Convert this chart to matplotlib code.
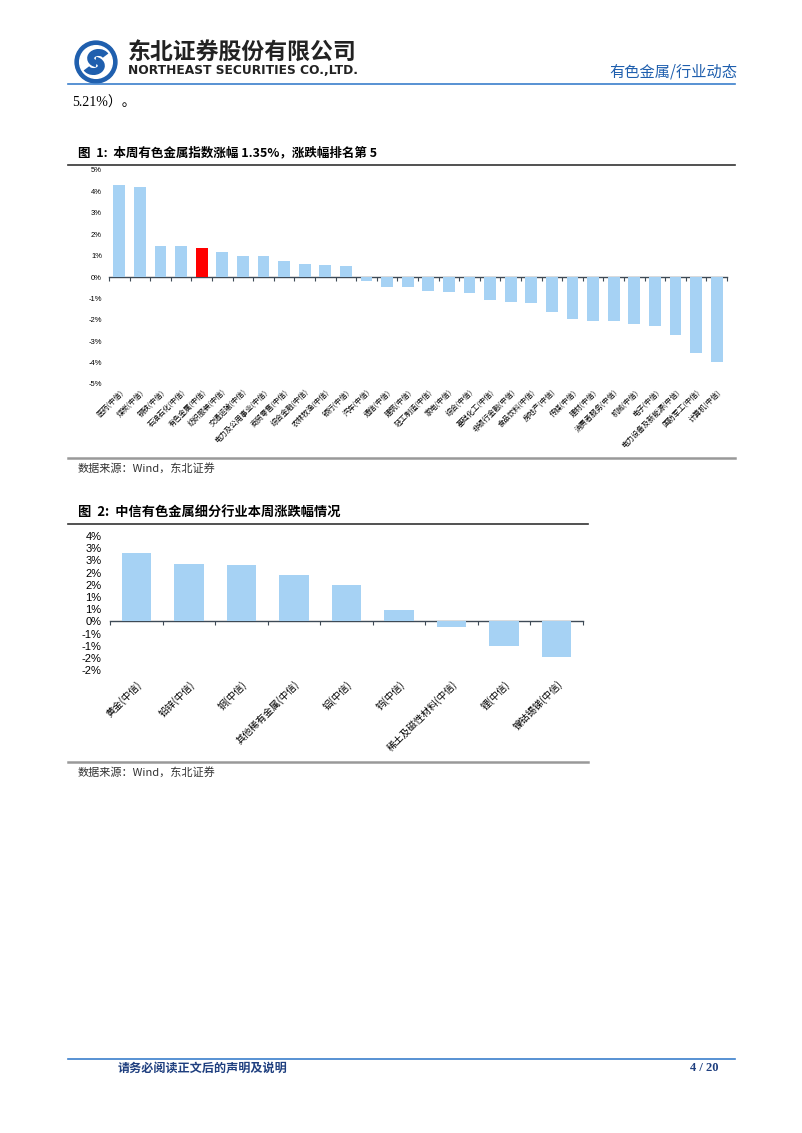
import numpy as np
import matplotlib
matplotlib.use("Agg")
import matplotlib.pyplot as plt
from matplotlib.lines import Line2D
from matplotlib.patches import Circle, Arc

plt.rcParams['font.family'] = ['Noto Sans CJK SC', 'DejaVu Sans']

W, H = 802, 1133

# ---- data: figure 1 (中信一级行业本周涨跌幅, %) ----
industries = ["医药(中信)", "煤炭(中信)", "钢铁(中信)", "石油石化(中信)", "有色金属(中信)",
              "纺织服装(中信)", "交通运输(中信)", "电力及公用事业(中信)", "商贸零售(中信)",
              "综合金融(中信)", "农林牧渔(中信)", "银行(中信)", "汽车(中信)", "通信(中信)",
              "建筑(中信)", "轻工制造(中信)", "家电(中信)", "综合(中信)", "基础化工(中信)",
              "非银行金融(中信)", "食品饮料(中信)", "房地产(中信)", "传媒(中信)", "建材(中信)",
              "消费者服务(中信)", "机械(中信)", "电子(中信)", "电力设备及新能源(中信)",
              "国防军工(中信)", "计算机(中信)"]
industry_chg = [4.30, 4.22, 1.47, 1.44, 1.35, 1.18, 0.98, 0.97, 0.76, 0.62, 0.57, 0.51,
                -0.20, -0.48, -0.47, -0.64, -0.70, -0.75, -1.09, -1.17, -1.23, -1.62,
                -1.97, -2.04, -2.05, -2.19, -2.30, -2.70, -3.54, -3.99]
highlight = "有色金属(中信)"
ind_yticks = [-5, -4, -3, -2, -1, 0, 1, 2, 3, 4, 5]
ind_yticklabels = ["-5%", "-4%", "-3%", "-2%", "-1%", "0%", "1%", "2%", "3%", "4%", "5%"]

# ---- data: figure 2 (中信有色金属细分行业, %) ----
sub_names = ["黄金(中信)", "铅锌(中信)", "铜(中信)", "其他稀有金属(中信)", "铝(中信)",
             "钨(中信)", "稀土及磁性材料(中信)", "锂(中信)", "镍钴锡锑(中信)"]
sub_chg = [2.79, 2.36, 2.31, 1.91, 1.50, 0.47, -0.24, -1.00, -1.46]
sub_yticks = [-2.0, -1.5, -1.0, -0.5, 0.0, 0.5, 1.0, 1.5, 2.0, 2.5, 3.0, 3.5]
sub_yticklabels = ["-2%", "-2%", "-1%", "-1%", "0%", "1%", "1%", "2%", "2%", "3%", "3%", "4%"]

BAR = '#A6D2F4'
RED = '#FF0000'
AXIS = '#3E4A56'
BLUE = '#1F5FAE'

fig = plt.figure(figsize=(W / 100, H / 100), dpi=100)


def box(l, t, r, b):
    return [l / W, 1 - b / H, (r - l) / W, (b - t) / H]


def ftext(x, y, s, **kw):
    fig.text(x / W, 1 - y / H, s, **kw)


def hline(x0, x1, y, color, lw):
    fig.add_artist(Line2D([x0 / W, x1 / W], [1 - y / H, 1 - y / H], color=color, lw=lw))


def bar_panel(rect, names, vals, yticks, ylabels, colors, tick_fs, lab_fs, width, ypad, xpad):
    ax = fig.add_axes(rect)
    x = np.arange(len(names))
    ax.bar(x, vals, width=width, color=colors, zorder=2)
    ax.set_xlim(-0.5, len(names) - 0.5)
    ax.set_ylim(yticks[0], yticks[-1])
    ax.set_yticks(yticks, ylabels, fontsize=tick_fs, family='Liberation Sans')
    ax.tick_params(axis='y', length=0, pad=ypad)
    ax.set_xticks(x, names, rotation=45, ha='right', rotation_mode='anchor', fontsize=lab_fs)
    ax.tick_params(axis='x', length=0, pad=xpad)
    for s in ax.spines.values():
        s.set_visible(False)
    ax.patch.set_alpha(0)
    # zero line with category-boundary ticks
    zero = (0 - yticks[0]) / (yticks[-1] - yticks[0])
    sec = ax.secondary_xaxis(zero)
    sec.set_alignment('bottom')
    sec.set_xticks(np.arange(len(names) + 1) - 0.5, [''] * (len(names) + 1))
    sec.tick_params(length=3, color=AXIS, width=0.8)
    sec.spines['bottom'].set_color(AXIS)
    sec.spines['bottom'].set_linewidth(1.0)
    return ax


# ---- header ----
lax = fig.add_axes(box(71, 40, 121, 84))
lax.set_xlim(-1.05, 1.05)
lax.set_ylim(-1.05, 1.05)
lax.set_aspect('equal')
lax.axis('off')
lax.add_patch(Circle((0, 0), 1.0, color=BLUE))
lax.add_patch(Circle((0, 0), 0.78, color='white'))
lax.add_patch(Arc((0.12, 0.18), 0.75, 0.55, theta1=20, theta2=250, color=BLUE, lw=5))
lax.add_patch(Arc((-0.12, -0.18), 0.75, 0.55, theta1=200, theta2=430, color=BLUE, lw=5))

ftext(128, 52, "东北证券股份有限公司", fontsize=16.5, fontweight='bold', va='center', color='#222222')
ftext(128, 71, "NORTHEAST SECURITIES CO.,LTD.", fontsize=8.8, fontweight='bold',
      family='DejaVu Sans', va='center', color='#222222')
ftext(737, 72, "有色金属/行业动态", fontsize=11, va='center', ha='right', color=BLUE)
hline(68, 735, 84, '#3B7FCC', 1.2)
ftext(72, 103, "5.21%）。", fontsize=10, va='center',
      family=['Liberation Serif', 'Noto Sans CJK SC'])

# ---- figure 1 ----
ftext(78, 153, "图  1:  本周有色金属指数涨幅 1.35%，涨跌幅排名第 5", fontsize=9,
      fontweight='bold', va='center')
hline(68, 735, 165, '#333333', 1.2)
colors1 = [RED if n == highlight else BAR for n in industries]
bar_panel(box(109, 170, 727, 384), industries, industry_chg, ind_yticks, ind_yticklabels,
          colors1, 5.5, 5.3, 0.58, 5, 3)
hline(68, 735, 458, '#999999', 1.8)
ftext(78, 468, "数据来源：Wind，东北证券", fontsize=8, va='center', color='#333333')

# ---- figure 2 ----
ftext(78, 512, "图  2:  中信有色金属细分行业本周涨跌幅情况", fontsize=9.5,
      fontweight='bold', va='center')
hline(68, 588, 524, '#333333', 1.2)
bar_panel(box(110, 536, 583, 670.3), sub_names, sub_chg, sub_yticks, sub_yticklabels,
          BAR, 8, 7, 0.56, 6, 6)
hline(68, 588, 762, '#999999', 1.8)
ftext(78, 772, "数据来源：Wind，东北证券", fontsize=8, va='center', color='#333333')

# ---- footer ----
hline(68, 735, 1059, '#3B7FCC', 1.2)
ftext(118, 1068, "请务必阅读正文后的声明及说明", fontsize=8.7, fontweight='bold',
      va='center', color='#1F3F7F')
ftext(718, 1068, "4 / 20", fontsize=9, fontweight='bold', va='center', ha='right',
      family='Liberation Serif', color='#1F3F7F')

fig.savefig("out.png", dpi=100)
